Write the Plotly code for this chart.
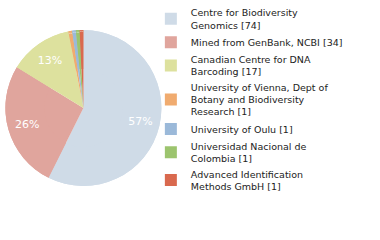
import plotly.graph_objects as go

labels = [
    "Centre for Biodiversity<br>Genomics [74]",
    "Mined from GenBank, NCBI [34]",
    "Canadian Centre for DNA<br>Barcoding [17]",
    "University of Vienna, Dept of<br>Botany and Biodiversity<br>Research [1]",
    "University of Oulu [1]",
    "Universidad Nacional de<br>Colombia [1]",
    "Advanced Identification<br>Methods GmbH [1]",
]
values = [74, 34, 17, 1, 1, 1, 1]
colors = ["#cfdbe7", "#e0a59d", "#dde19e", "#f0ab6f", "#9bb9d9", "#9cc46e", "#d9694e"]

dom = dict(x=[0.013, 0.426], y=[0.225, 0.875])

# underlying full pie (fills centre), no text, no legend
under = go.Pie(
    labels=labels, values=values, sort=False, direction="clockwise", rotation=0,
    marker=dict(colors=colors, line=dict(width=0)),
    textinfo="none", showlegend=False, domain=dom, hoverinfo="skip",
)
# ring on top carrying the percentage labels at ~0.75 radius
ring = go.Pie(
    labels=labels, values=values, sort=False, direction="clockwise", rotation=0,
    hole=0.5,
    marker=dict(colors=colors, line=dict(width=0)),
    texttemplate="%{percent:.0%}",
    textposition="inside",
    insidetextorientation="horizontal",
    textfont=dict(color="white", size=11, family="DejaVu Sans"),
    domain=dom, hoverinfo="skip",
)

fig = go.Figure([under, ring])

fig.update_layout(
    width=380, height=240,
    margin=dict(l=0, r=0, t=0, b=0),
    paper_bgcolor="white",
    font=dict(family="DejaVu Sans", size=9.5, color="#222"),
    showlegend=True,
    legend=dict(
        x=0.397, y=1.0, xanchor="left", yanchor="top",
        font=dict(size=9.5, family="DejaVu Sans", color="#222"),
        itemwidth=30,
        tracegroupgap=0,
        bgcolor="rgba(0,0,0,0)",
    ),
)

fig.write_html("out.html", config={"displayModeBar": False},
               post_script="document.body.style.margin='0';")
